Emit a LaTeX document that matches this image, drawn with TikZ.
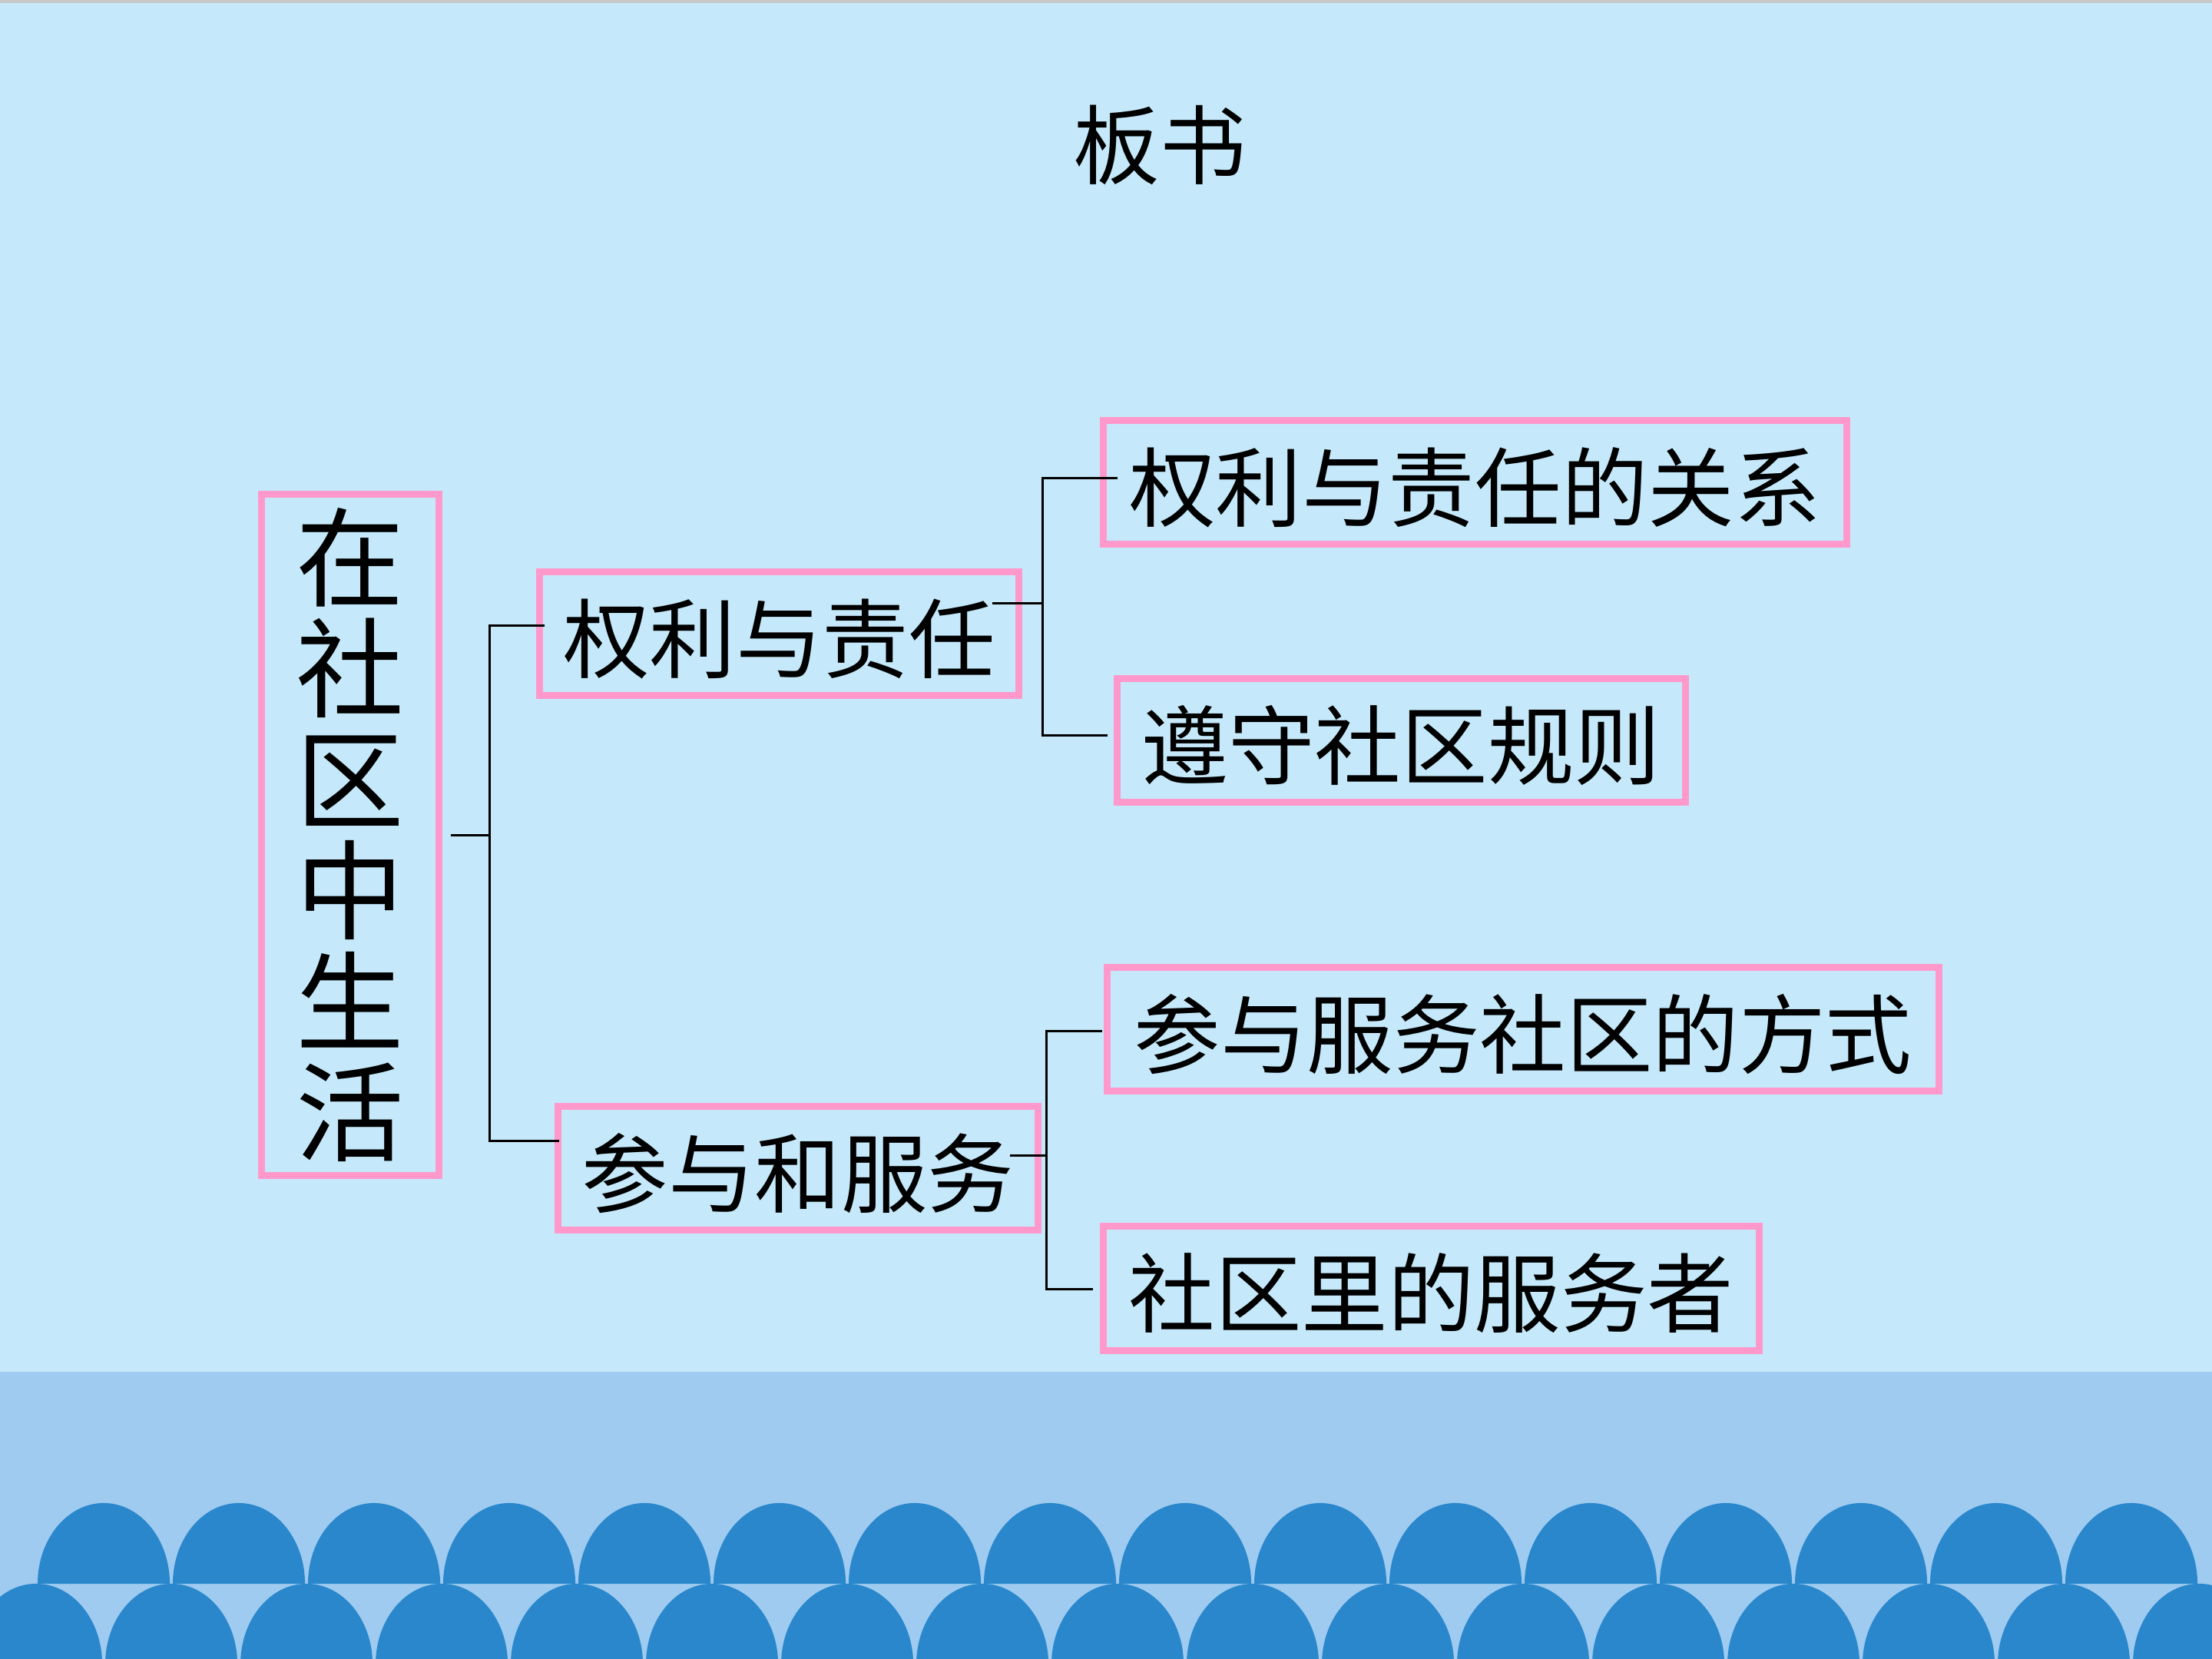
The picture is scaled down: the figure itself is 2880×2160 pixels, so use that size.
\documentclass[tikz,border=0pt]{standalone}
\usepackage{fontspec}
\setmainfont{Noto Sans CJK SC}
\usetikzlibrary{calc}
\definecolor{bgc}{RGB}{197,233,250}
\definecolor{bandc}{RGB}{158,203,239}
\definecolor{scal}{RGB}{42,135,204}
\definecolor{pinkc}{RGB}{255,153,204}
\definecolor{topc}{RGB}{200,200,200}
\begin{document}
\begin{tikzpicture}[x=0.01cm,y=-0.01cm,
  box/.style={draw=pinkc,line width=0.09cm,inner sep=0pt,minimum height=1.61cm,
    font=\fontsize{32}{34}\selectfont,text height=30pt,text depth=2pt},
  mainbox/.style={draw=pinkc,line width=0.09cm,inner sep=0pt,align=center,
    font=\fontsize{40}{41.1}\selectfont},
  conn/.style={black,line width=0.03cm}]
\useasboundingbox (0,0) rectangle (2880,2160);
\clip (0,0) rectangle (2880,2160);
% background
\fill[bgc] (0,0) rectangle (2880,2160);
\fill[topc] (0,0) rectangle (2880,4);
\fill[bandc] (0,1786) rectangle (2880,2160);
% scallops
\foreach \c in {0,...,16}
  \fill[scal] ({47+176*\c-86},2167) arc[start angle=180,end angle=0,x radius=0.86cm,y radius=1.05cm] -- cycle;
\foreach \c in {0,...,15}
  \fill[scal] ({135+176*\c-86},2062) arc[start angle=180,end angle=0,x radius=0.86cm,y radius=1.05cm] -- cycle;
% title
\node[font=\fontsize{32}{34}\selectfont] (title) at (1510,189) {板书};
% nodes
\node[mainbox,minimum width=2.31cm,minimum height=8.87cm] (main) at (456,1087) {在\\社\\区\\中\\生\\活};
\node[box,minimum width=6.24cm] (n2) at (1014.5,825) {权利与责任};
\node[box,minimum width=6.25cm] (n3) at (1039,1521) {参与和服务};
\node[box,minimum width=9.68cm] (r1) at (1920.5,628) {权利与责任的关系};
\node[box,minimum width=7.40cm] (r2) at (1824.5,964) {遵守社区规则};
\node[box,minimum width=10.83cm] (r3) at (1983,1340) {参与服务社区的方式};
\node[box,minimum width=8.54cm] (r4) at (1863.5,1677.5) {社区里的服务者};
% connectors
\coordinate (j1) at (637.5,1087);
\coordinate (t1) at (637.5,814);
\coordinate (t2) at (637.5,1485);
\draw[conn] ($(main.east)+(11,0)$) -- (j1);
\draw[conn] ($(n2.west|-t1)+(11,0)$) -- (t1) -- (t2) -- ($(n3.west|-t2)+(6,0)$);
\coordinate (u1) at (1357,622.5);
\coordinate (u2) at (1357,957);
\coordinate (um) at (1357,785);
\draw[conn] ($(n2.east|-um)+(-39,0)$) -- (um);
\draw[conn] ($(r1.west|-u1)+(23,0)$) -- (u1) -- (u2) -- ($(r2.west|-u2)+(-8,0)$);
\coordinate (v1) at (1362.5,1342);
\coordinate (v2) at (1362.5,1678);
\coordinate (vm) at (1362.5,1504);
\draw[conn] ($(n3.east|-vm)+(-41,0)$) -- (vm);
\draw[conn] ($(r3.west|-v1)+(-2,0)$) -- (v1) -- (v2) -- ($(r4.west|-v2)+(-9,0)$);
\end{tikzpicture}
\end{document}
